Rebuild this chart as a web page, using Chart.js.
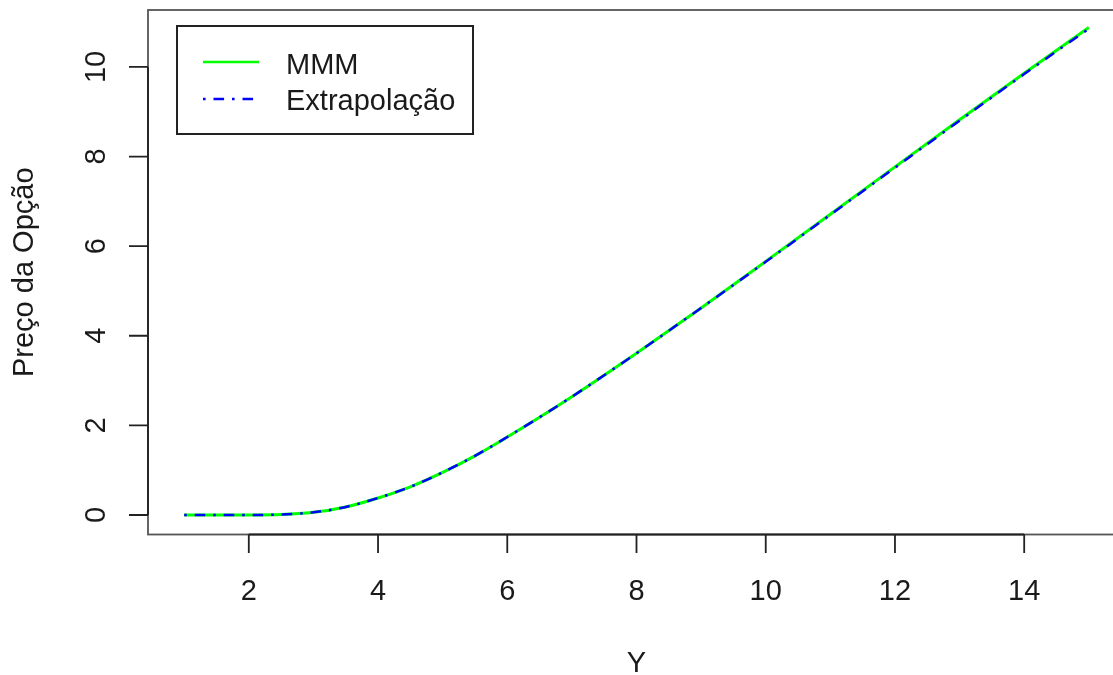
<!DOCTYPE html>
<html>
<head>
<meta charset="utf-8">
<script src="https://cdn.jsdelivr.net/npm/chart.js@4/dist/chart.umd.min.js"></script>
<style>
	html, body { margin: 0; padding: 0; background: #fff; overflow: hidden; }
	#wrap { width: 1140px; height: 675px; }
</style>
</head>
<body>
<div id="wrap"><canvas id="chart" width="1140" height="675"></canvas></div>
<script>
(function(){
	// data
	const xValues = [1, 1.5, 2, 2.5, 3, 3.5, 4, 4.5, 5, 5.5, 6, 6.5, 7, 7.5, 8, 9, 10, 11, 12, 13, 14, 15];
	const mmmValues = [0, 0, 0.001, 0.01, 0.06, 0.18, 0.38, 0.63, 0.95, 1.32, 1.74, 2.18, 2.64, 3.12, 3.61, 4.62, 5.66, 6.71, 7.77, 8.82, 9.86, 10.88];
	const extrapValues = [0, 0, 0.001, 0.01, 0.06, 0.18, 0.38, 0.63, 0.95, 1.32, 1.74, 2.18, 2.64, 3.12, 3.61, 4.62, 5.65, 6.70, 7.75, 8.80, 9.84, 10.85];
	const xTicks = [2, 4, 6, 8, 10, 12, 14];
	const yTicks = [0, 2, 4, 6, 8, 10];
	const seriesNames = ['MMM', 'Extrapolação'];
	const xTitle = 'Y';
	const yTitle = 'Preço da Opção';

	const FONT = '29px "Liberation Sans", Arial, Helvetica, sans-serif';
	const INK = '#1a1a1a';
	const GREEN = '#00ff00';
	const BLUE = '#0000ff';
	const DOTDASH = [2.6, 7.9, 10.6, 7.9];

	function toPoints(ys){
		return xValues.map((x, i) => ({x: x, y: ys[i]}));
	}

	// R-style axes, box and legend
	const baseGraphics = {
		id: 'baseGraphics',
		afterDraw(chart){
			const ctx = chart.ctx;
			const area = chart.chartArea;
			const xs = chart.scales.x;
			const ys = chart.scales.y;
			ctx.save();

			// plot box
			ctx.strokeStyle = '#555';
			ctx.lineWidth = 1.8;
			ctx.strokeRect(area.left, area.top, area.right - area.left, area.bottom - area.top);

			// axes
			ctx.strokeStyle = '#222';
			ctx.lineWidth = 1.8;
			ctx.beginPath();
			ctx.moveTo(xs.getPixelForValue(xTicks[0]), area.bottom);
			ctx.lineTo(xs.getPixelForValue(xTicks[xTicks.length - 1]), area.bottom);
			for(const t of xTicks){
				const px = xs.getPixelForValue(t);
				ctx.moveTo(px, area.bottom);
				ctx.lineTo(px, area.bottom + 18.5);
			}
			ctx.moveTo(area.left, ys.getPixelForValue(yTicks[0]));
			ctx.lineTo(area.left, ys.getPixelForValue(yTicks[yTicks.length - 1]));
			for(const t of yTicks){
				const py = ys.getPixelForValue(t);
				ctx.moveTo(area.left, py);
				ctx.lineTo(area.left - 19, py);
			}
			ctx.stroke();

			// tick labels
			ctx.fillStyle = INK;
			ctx.font = FONT;
			ctx.textAlign = 'center';
			ctx.textBaseline = 'alphabetic';
			for(const t of xTicks){
				ctx.fillText(String(t), xs.getPixelForValue(t), 600);
			}
			for(const t of yTicks){
				ctx.save();
				ctx.translate(105, ys.getPixelForValue(t));
				ctx.rotate(-Math.PI / 2);
				ctx.fillText(String(t), 0, 0);
				ctx.restore();
			}

			// axis titles
			ctx.fillText(xTitle, (area.left + area.right) / 2, 672);
			ctx.save();
			ctx.translate(33, (area.top + area.bottom) / 2);
			ctx.rotate(-Math.PI / 2);
			ctx.fillText(yTitle, 0, 0);
			ctx.restore();

			// legend
			ctx.fillStyle = '#fff';
			ctx.fillRect(177, 26, 296, 108);
			ctx.strokeStyle = '#222';
			ctx.lineWidth = 2;
			ctx.strokeRect(177, 26, 296, 108);

			ctx.lineWidth = 2.6;
			ctx.strokeStyle = GREEN;
			ctx.beginPath();
			ctx.moveTo(203, 62);
			ctx.lineTo(259, 62);
			ctx.stroke();

			ctx.lineWidth = 2.4;
			ctx.strokeStyle = BLUE;
			ctx.setLineDash(DOTDASH);
			ctx.beginPath();
			ctx.moveTo(203, 99);
			ctx.lineTo(259, 99);
			ctx.stroke();
			ctx.setLineDash([]);

			ctx.fillStyle = INK;
			ctx.textAlign = 'left';
			ctx.fillText(seriesNames[0], 286, 74);
			ctx.fillText(seriesNames[1], 286, 110);

			ctx.restore();
		}
	};

	new Chart(document.getElementById('chart'), {
		type: 'line',
		data: {
			datasets: [
				{
					label: seriesNames[0],
					data: toPoints(mmmValues),
					borderColor: GREEN,
					borderWidth: 3,
					pointRadius: 0,
					cubicInterpolationMode: 'monotone',
					fill: false,
					order: 1
				},
				{
					label: seriesNames[1],
					data: toPoints(extrapValues),
					borderColor: BLUE,
					borderWidth: 2.5,
					borderDash: DOTDASH,
					pointRadius: 0,
					cubicInterpolationMode: 'monotone',
					fill: false,
					order: 0
				}
			]
		},
		options: {
			responsive: false,
			animation: false,
			devicePixelRatio: 1,
			layout: { padding: { left: 148, top: 10, right: 15, bottom: 140.5 } },
			plugins: { legend: { display: false }, tooltip: { enabled: false } },
			scales: {
				x: { type: 'linear', min: 0.44, max: 15.56, display: false },
				y: { type: 'linear', min: -0.435, max: 11.27, display: false }
			}
		},
		plugins: [baseGraphics]
	});
})();
</script>
</body>
</html>
